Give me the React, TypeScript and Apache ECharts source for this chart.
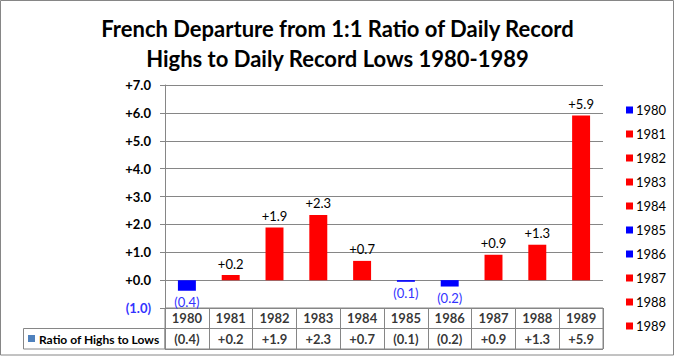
import React, { useEffect, useRef } from "react";
import * as echarts from "echarts";

const years = ["1980", "1981", "1982", "1983", "1984", "1985", "1986", "1987", "1988", "1989"];
const values = [-0.38, 0.18, 1.89, 2.34, 0.69, -0.06, -0.23, 0.91, 1.27, 5.91];
const yMin = -1;
const yMax = 7;
const yInterval = 1;
const titleText = "French Departure from 1:1 Ratio of Daily Record\nHighs to Daily Record Lows 1980-1989";
const tableSeriesName = "Ratio of Highs to Lows";

const RED = "#FF0000";
const BLUE = "#0000FF";
const NEG_LABEL = "#3333FF";
const GRAY = "#868686";
const FONT = "Lato, 'Liberation Sans', sans-serif";

const fmt = (v: number) => (v < 0 ? `(${Math.abs(v).toFixed(1)})` : `+${v.toFixed(1)}`);

export default function App() {
  const ref = useRef<HTMLDivElement>(null);
  useEffect(() => {
    document.body.style.margin = "0";
    if (!ref.current) return;
    const chart = echarts.init(ref.current, undefined, { renderer: "svg" });

    const barSeries = years.map((yr, i) => ({
      name: yr,
      type: "bar",
      xAxisIndex: 0,
      yAxisIndex: 0,
      stack: "all",
      barWidth: "41%",
      itemStyle: { color: values[i] < 0 ? BLUE : RED },
      label: {
        show: true,
        position: values[i] < 0 ? "bottom" : "top",
        distance: 5,
        fontFamily: FONT,
        fontSize: 13,
        color: values[i] < 0 ? NEG_LABEL : "#000",
        formatter: (p: any) => fmt(p.value),
      },
      data: years.map((_, j) => (j === i ? values[i] : "-")),
    }));

    chart.setOption({
      animation: false,
      title: {
        text: titleText,
        left: "center",
        top: 8,
        textStyle: { fontFamily: FONT, fontSize: 22, fontWeight: "bold", color: "#000", lineHeight: 30 },
      },
      legend: {
        data: years,
        orient: "vertical",
        left: 621,
        top: 98,
        itemWidth: 7,
        itemHeight: 7,
        itemGap: 10,
        icon: "rect",
        textStyle: { fontFamily: FONT, fontSize: 13, color: "#000", lineHeight: 14, padding: [0, 0, 0, -2] },
      },
      grid: [
        { left: 165, right: 72, top: 85, bottom: 48 },
        { left: 165, right: 72, top: 308, height: 41, show: true, borderColor: GRAY, borderWidth: 1 },
      ],
      xAxis: [
        {
          type: "category",
          gridIndex: 0,
          data: years,
          axisLine: { show: false },
          axisTick: { show: false },
          axisLabel: { show: false },
        },
        {
          type: "category",
          gridIndex: 1,
          data: years,
          axisLine: { show: false },
          axisTick: { show: false },
          axisLabel: { show: false },
          splitLine: { show: true, lineStyle: { color: GRAY, width: 1 } },
        },
      ],
      yAxis: [
        {
          type: "value",
          gridIndex: 0,
          min: yMin,
          max: yMax,
          interval: yInterval,
          axisLine: { show: true, lineStyle: { color: GRAY } },
          axisTick: { show: true, length: 5, lineStyle: { color: GRAY } },
          splitLine: { show: true, lineStyle: { color: GRAY, width: 1 } },
          axisLabel: {
            margin: 14,
            fontFamily: FONT,
            fontSize: 13,
            fontWeight: "bold",
            formatter: (v: number) => (v < 0 ? `{n|${fmt(v)}}` : `{p|${fmt(v)}}`),
            rich: {
              p: { color: "#000", fontFamily: FONT, fontSize: 13, fontWeight: "bold" },
              n: { color: NEG_LABEL, fontFamily: FONT, fontSize: 13, fontWeight: "bold" },
            },
          },
        },
        {
          type: "category",
          gridIndex: 1,
          data: ["val", "year"],
          axisLine: { show: false },
          axisTick: { show: false },
          axisLabel: { show: false },
          splitLine: { show: true, lineStyle: { color: GRAY, width: 1 } },
        },
      ],
      series: [
        ...barSeries,
        {
          name: "tableYears",
          type: "scatter",
          xAxisIndex: 1,
          yAxisIndex: 1,
          symbolSize: 1,
          itemStyle: { color: "transparent" },
          silent: true,
          label: {
            show: true,
            position: "inside",
            fontFamily: FONT,
            fontSize: 13,
            fontWeight: "bold",
            color: "#000",
            formatter: (p: any) => p.data[0],
          },
          data: years.map((yr) => [yr, "year"]),
        },
        {
          name: "tableValues",
          type: "scatter",
          xAxisIndex: 1,
          yAxisIndex: 1,
          symbolSize: 1,
          itemStyle: { color: "transparent" },
          silent: true,
          label: {
            show: true,
            position: "inside",
            fontFamily: FONT,
            fontSize: 13,
            fontWeight: "bold",
            color: "#000",
            formatter: (p: any) => fmt(p.data[2]),
          },
          data: years.map((yr, i) => [yr, "val", values[i]]),
        },
      ],
      graphic: [
        {
          type: "rect",
          shape: { x: 0.5, y: 0.5, width: 673, height: 354.5 },
          style: { fill: "none", stroke: GRAY, lineWidth: 1 },
          silent: true,
        },
        {
          type: "rect",
          shape: { x: 23.5, y: 328.5, width: 141.5, height: 20.5 },
          style: { fill: "none", stroke: GRAY, lineWidth: 1 },
          silent: true,
        },
        {
          type: "rect",
          shape: { x: 28, y: 335, width: 7, height: 7 },
          style: { fill: "#4F81BD" },
          silent: true,
        },
        {
          type: "text",
          x: 39,
          y: 339,
          style: {
            text: tableSeriesName,
            fontFamily: FONT,
            fontSize: 12,
            fontWeight: "bold",
            fill: "#000",
            verticalAlign: "middle",
          },
          silent: true,
        },
      ],
    });
    return () => chart.dispose();
  }, []);
  return <div ref={ref} style={{ width: 675, height: 356 }} />;
}
